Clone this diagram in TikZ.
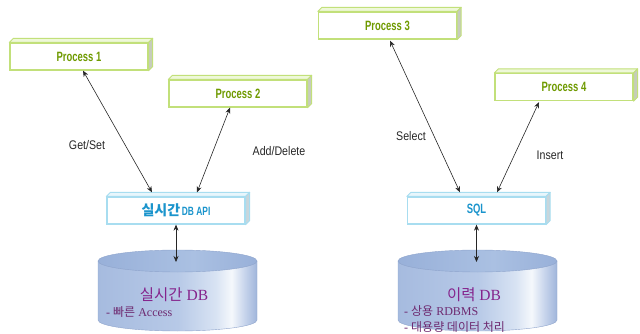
\documentclass[tikz,border=0pt]{standalone}
\usepackage{fontspec}
\setmainfont{Liberation Serif}
\newfontfamily\cjk{Noto Sans CJK KR}
\newfontfamily\boxfont[FakeStretch=0.7]{Liberation Sans}
\newfontfamily\lblfont[FakeStretch=0.85]{Liberation Sans}
\usetikzlibrary{arrows.meta,calc}

\definecolor{procgreen}{HTML}{6F9A00}
\definecolor{procedge}{HTML}{C2E07A}
\definecolor{proctop}{HTML}{EEF8D8}
\definecolor{procside}{HTML}{C6CCBC}
\definecolor{apicyan}{HTML}{1A94CC}
\definecolor{apiedge}{HTML}{A8DDF0}
\definecolor{apitop}{HTML}{E8F6FC}
\definecolor{apiside}{HTML}{C8D6DC}
\definecolor{dbtext}{HTML}{85248C}
\definecolor{dbsub}{HTML}{6E2A70}
\definecolor{dbedge}{HTML}{8EA4CC}
\definecolor{cb0}{HTML}{A6BBDF}
\definecolor{cb1}{HTML}{B7C9E7}
\definecolor{cb2}{HTML}{D8E3F3}
\definecolor{cb3}{HTML}{F5F8FC}
\definecolor{cb4}{HTML}{C8D5EC}
\definecolor{cb5}{HTML}{A0B5DB}
\definecolor{ct0}{HTML}{98B0D9}
\definecolor{ct1}{HTML}{AAC0E2}

% cylinder body: blue with a bright band towards the right
\pgfdeclarehorizontalshading{cylbody}{100bp}{color(0bp)=(cb0); color(25bp)=(cb0);
  color(50bp)=(cb1); color(62bp)=(cb2); color(67bp)=(cb3); color(71bp)=(cb4);
  color(75bp)=(cb5); color(100bp)=(cb5)}
\pgfdeclarehorizontalshading{cyltop}{100bp}{color(0bp)=(ct0); color(25bp)=(ct0);
  color(55bp)=(ct1); color(75bp)=(ct0); color(100bp)=(ct0)}

\tikzset{
  procbox/.style={draw=procedge, line width=1.3pt, fill=white,
    minimum width=138pt, minimum height=27pt, inner sep=0pt,
    font=\boxfont\bfseries\fontsize{13.5}{13.5}\selectfont, text=procgreen},
  apibox/.style={draw=apiedge, line width=1.3pt, fill=white,
    minimum width=138pt, minimum height=27pt, inner sep=0pt, text=apicyan},
  link/.style={draw=black!85, line width=0.6pt,
    {Stealth[length=6pt,width=5pt]}-{Stealth[length=6pt,width=5pt]}},
  lbl/.style={font=\lblfont\fontsize{12.5}{12.5}\selectfont, text=black!85},
  dbtitle/.style={text=dbtext, font=\fontsize{15.5}{15.5}\selectfont, inner sep=0pt},
  dbnote/.style={text=dbsub, font=\fontsize{12}{12}\selectfont, inner sep=0pt, anchor=west},
}

\begin{document}
\begin{tikzpicture}[x=1pt, y=-1pt]
\useasboundingbox (0,0) rectangle (640,334);

% database cylinders
\foreach \cx/\nm in {177.5/dbA, 477.5/dbB}{
  \path[shading=cylbody, draw=dbedge, line width=0.4pt]
    (\cx-79.5,261) -- (\cx-79.5,320) arc[start angle=180, end angle=360, x radius=79.5, y radius=-11]
    -- (\cx+79.5,261) -- cycle;
  \path[shading=cyltop, draw=dbedge, line width=0.4pt]
    (\cx,261) ellipse[x radius=79.5, y radius=11];
  \coordinate (\nm) at (\cx,262);
}

% process boxes
\node[procbox] (p1) at (79,56.5) {Process 1};
\node[procbox] (p2) at (238,93.5) {Process 2};
\node[procbox] (p3) at (387.5,25.5) {Process 3};
\node[procbox] (p4) at (564,87) {Process 4};

% access layer boxes
\node[apibox] (api) at (176,210.5)
  {{\cjk\bfseries\fontsize{14}{14}\selectfont 실시간}\,{\boxfont\bfseries\fontsize{12}{12}\selectfont DB API}};
\node[apibox] (sql) at (476.5,210.5)
  {\boxfont\bfseries\fontsize{13.5}{13.5}\selectfont SQL};

% raised top and right faces of the boxes
\foreach \n/\ed/\tp/\sd in {p1/procedge/proctop/procside, p2/procedge/proctop/procside,
    p3/procedge/proctop/procside, p4/procedge/proctop/procside,
    api/apiedge/apitop/apiside, sql/apiedge/apitop/apiside}{
  \filldraw[draw=\ed, fill=\tp, line width=0.9pt, line join=round]
    (\n.north west) -- ++(4,-4) -- ([shift={(4,-4)}]\n.north east) -- (\n.north east) -- cycle;
  \filldraw[draw=\ed, fill=\sd, line width=0.9pt, line join=round]
    (\n.north east) -- ++(4,-4) -- ([shift={(4,-4)}]\n.south east) -- (\n.south east) -- cycle;
}

% connectors
\draw[link] ([xshift=4pt]p1.south) -- ([xshift=-24pt,yshift=4pt]api.north);
\draw[link] ([xshift=-8pt]p2.south) -- ([xshift=21pt,yshift=4pt]api.north);
\draw[link] ([xshift=2.5pt,yshift=-1pt]p3.south) -- ([xshift=-16.5pt,yshift=4pt]sql.north);
\draw[link] ([xshift=-25pt,yshift=-1pt]p4.south) -- ([xshift=20.5pt,yshift=4pt]sql.north);
\draw[link] (api.south) -- (api.south |- dbA);
\draw[link] (sql.south) -- (sql.south |- dbB);

% operation labels
\node[lbl] (l1) at (87,145) {Get/Set};
\node[lbl] (l2) at (279,151) {Add/Delete};
\node[lbl] (l3) at (411,136) {Select};
\node[lbl] (l4) at (550,155) {Insert};

% database captions
\node[dbtitle] (t1) at (174,295) {{\cjk 실시간} DB};
\node[dbnote] (n1) at (106,312) {- {\cjk 빠른} Access};
\node[dbtitle] (t2) at (474,295) {{\cjk 이력} DB};
\node[dbnote] (n2) at (404,311) {- {\cjk 상용} RDBMS};
\node[dbnote] (n3) at (404,327) {- {\cjk 대용량 데이터 처리}};
\end{tikzpicture}
\end{document}
